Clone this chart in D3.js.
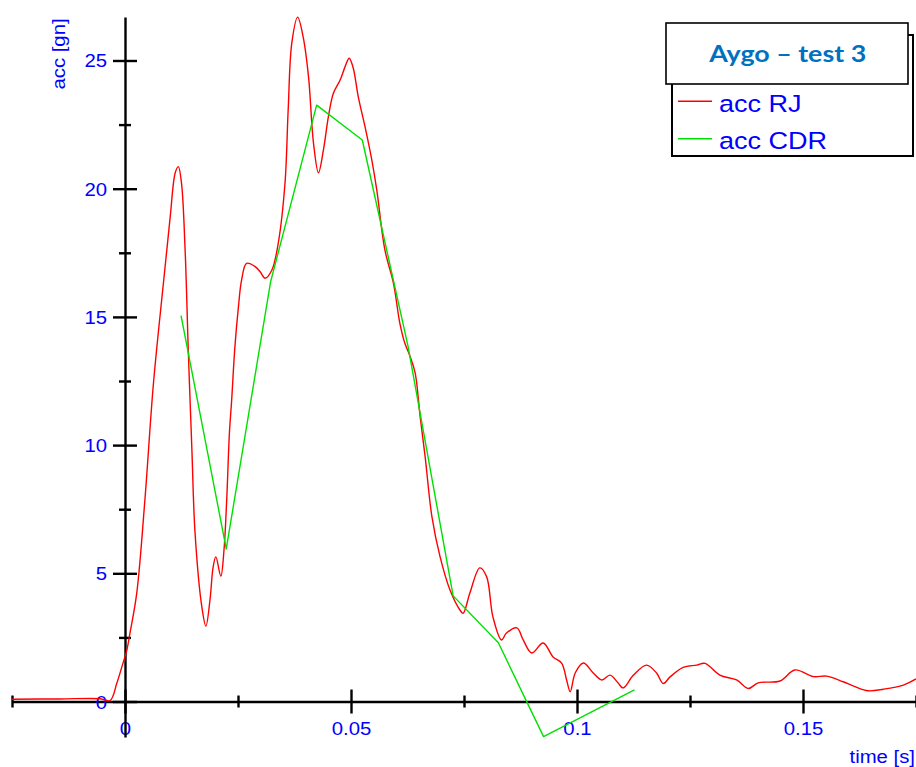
<!DOCTYPE html>
<html>
<head>
<meta charset="utf-8">
<script src="https://cdn.jsdelivr.net/npm/d3@7/dist/d3.min.js"></script>
<style>
  html, body { margin: 0; padding: 0; background: #fff; }
  svg { display: block; }
</style>
</head>
<body>
<svg id="chart" width="916" height="767"></svg>
<script>
// Crash pulse: measured acceleration (acc RJ) vs. CDR reconstruction
const rjTime = [-0.0250, -0.0144, -0.0055, -0.0033, -0.0018, -0.0007, 0.0004, 0.0011, 0.0026, 0.0044,
  0.0063, 0.0085, 0.0100, 0.0111, 0.0118, 0.0125, 0.0133, 0.0140, 0.0148, 0.0155,
  0.0170, 0.0179, 0.0188, 0.0195, 0.0201, 0.0212, 0.0219, 0.0225, 0.0231,
  0.0236, 0.0243, 0.0251, 0.0258, 0.0269, 0.0288, 0.0299, 0.0310, 0.0325, 0.0339,
  0.0354, 0.0361, 0.0369, 0.0382, 0.0394, 0.0406, 0.0417, 0.0428, 0.0439, 0.0450,
  0.0461, 0.0476, 0.0487, 0.0496, 0.0505, 0.0516, 0.0531, 0.0546, 0.0557, 0.0575,
  0.0594, 0.0608, 0.0619, 0.0631, 0.0642, 0.0653, 0.0664, 0.0679, 0.0697, 0.0719,
  0.0741, 0.0748, 0.0763, 0.0785, 0.0800, 0.0814, 0.0833, 0.0844, 0.0867, 0.0881,
  0.0900, 0.0925, 0.0947, 0.0966, 0.0977, 0.0985, 0.0996, 0.1014, 0.1036, 0.1055,
  0.1073, 0.1091, 0.1102, 0.1125, 0.1154, 0.1176, 0.1191, 0.1206, 0.1235, 0.1265,
  0.1283, 0.1316, 0.1353, 0.1379, 0.1401, 0.1449, 0.1482, 0.1523, 0.1552, 0.1589,
  0.1615, 0.1644, 0.1678, 0.1722, 0.1750];
const rjAcc = [0.09, 0.10, 0.11, 0.04, 0.72, 1.35, 2.00, 2.67, 4.23, 7.86,
  12.42, 16.32, 18.90, 20.61, 20.86, 20.22, 17.61, 13.71, 9.81, 6.57,
  3.69, 2.94, 3.96, 5.25, 5.64, 4.89, 5.91, 7.86, 10.47,
  11.76, 13.80, 15.40, 16.44, 17.09, 16.96, 16.76, 16.51, 16.83, 17.87,
  20.22, 23.07, 25.68, 26.69, 25.93, 24.37, 21.78, 20.62, 21.51, 22.81,
  23.72, 24.24, 24.76, 25.09, 24.70, 23.59, 22.42, 21.12, 19.95, 17.61,
  16.31, 14.76, 13.98, 13.45, 12.81, 11.11, 9.55, 7.21, 5.65, 4.35,
  3.57, 3.44, 4.23, 5.21, 4.87, 3.30, 2.40, 2.67, 2.87, 2.40,
  1.89, 2.28, 1.74, 1.50, 0.84, 0.38, 1.11, 1.50, 1.11, 0.84,
  1.03, 0.72, 0.53, 1.03, 1.42, 1.11, 0.70, 0.96, 1.33, 1.42,
  1.49, 1.03, 0.84, 0.51, 0.73, 0.80, 1.23, 0.97, 0.99, 0.77,
  0.58, 0.42, 0.48, 0.64, 0.88];

const cdrTime = [0.0124, 0.0224, 0.0322, 0.0424, 0.0525, 0.0626, 0.0726, 0.0826, 0.0926, 0.1127];
const cdrAcc  = [15.05, 5.95, 16.36, 23.26, 21.90, 13.87, 4.12, 2.29, -1.37, 0.45];

const xMajorTicks = [0, 0.05, 0.1, 0.15];
const xMinorTicks = [-0.025, 0.025, 0.075, 0.125, 0.175];
const yMajorTicks = [0, 5, 10, 15, 20, 25];
const yMinorTicks = [2.5, 7.5, 12.5, 17.5, 22.5];
const xTickLabels = ["0", "0.05", "0.1", "0.15"];
const yTickLabels = ["0", "5", "10", "15", "20", "25"];

const seriesNames = ["acc RJ", "acc CDR"];
const seriesColors = ["#ff0000", "#00e000"];
const titleText = "Aygo \u2013 test 3";
const xTitle = "time [s]";
const yTitle = "acc [gn]";

const svg = d3.select("#chart");
const FONT = "'Liberation Sans', Arial, sans-serif";
const BLUE = "#0000ff";
const STRETCH = 1.13;

const x = d3.scaleLinear().domain([-0.025, 0.175]).range([12, 916]);
const y = d3.scaleLinear().domain([-1.38, 26.7]).range([736.9, 16.9]);

// x axis (drawn first so the y axis line passes over the "0" label)
const xAxisG = svg.append("g").attr("transform", `translate(0,${y(0)})`);
xAxisG.call(d3.axisBottom(x).tickValues(xMajorTicks).tickSize(12).tickSizeOuter(0)
  .tickFormat((d, i) => xTickLabels[i]));
xAxisG.select(".domain").attr("stroke", "#000").attr("stroke-width", 2.4);
xAxisG.selectAll(".tick line").attr("y1", -12).attr("y2", 12).attr("stroke", "#000").attr("stroke-width", 2.4);
xAxisG.selectAll(".tick text")
  .attr("y", null).attr("dy", null)
  .attr("transform", `translate(0,33.5) scale(${STRETCH},1)`)
  .attr("fill", BLUE).attr("font-family", FONT).attr("font-size", 18);

const xMinorG = svg.append("g").attr("transform", `translate(0,${y(0)})`);
xMinorG.call(d3.axisBottom(x).tickValues(xMinorTicks).tickSize(6).tickFormat(""));
xMinorG.select(".domain").remove();
xMinorG.selectAll(".tick line").attr("y1", -6).attr("y2", 6).attr("stroke", "#000").attr("stroke-width", 2.4);

// y axis
const yAxisG = svg.append("g").attr("transform", `translate(${x(0)},0)`);
yAxisG.call(d3.axisLeft(y).tickValues(yMajorTicks).tickSize(12).tickSizeOuter(0)
  .tickFormat((d, i) => yTickLabels[i]));
yAxisG.select(".domain").attr("stroke", "#000").attr("stroke-width", 2.4);
yAxisG.selectAll(".tick line").attr("x1", -12).attr("x2", 12).attr("stroke", "#000").attr("stroke-width", 2.4);
yAxisG.selectAll(".tick text")
  .attr("x", null).attr("dy", "0.36em")
  .attr("transform", `translate(-18,0) scale(${STRETCH},1)`)
  .attr("text-anchor", "end")
  .attr("fill", BLUE).attr("font-family", FONT).attr("font-size", 18);

const yMinorG = svg.append("g").attr("transform", `translate(${x(0)},0)`);
yMinorG.call(d3.axisLeft(y).tickValues(yMinorTicks).tickSize(6).tickFormat(""));
yMinorG.select(".domain").remove();
yMinorG.selectAll(".tick line").attr("x1", -6).attr("x2", 6).attr("stroke", "#000").attr("stroke-width", 2.4);

// axis titles
svg.append("text")
  .attr("transform", `translate(65,54) rotate(-90) scale(${STRETCH},1)`)
  .attr("text-anchor", "middle")
  .attr("font-family", FONT).attr("font-size", 18).attr("fill", BLUE)
  .text(yTitle);
svg.append("text")
  .attr("transform", `translate(915,763) scale(${STRETCH},1)`)
  .attr("text-anchor", "end")
  .attr("font-family", FONT).attr("font-size", 18).attr("fill", BLUE)
  .text(xTitle);

// series
const rjData = rjTime.map((t, i) => [t, rjAcc[i]]);
const cdrData = cdrTime.map((t, i) => [t, cdrAcc[i]]);

const smooth = d3.line().x(d => x(d[0])).y(d => y(d[1])).curve(d3.curveCatmullRom.alpha(0.5));
const straight = d3.line().x(d => x(d[0])).y(d => y(d[1]));

svg.append("path").datum(rjData)
  .attr("d", smooth).attr("fill", "none")
  .attr("stroke", seriesColors[0]).attr("stroke-width", 1.4).attr("stroke-linejoin", "round");
svg.append("path").datum(cdrData)
  .attr("d", straight).attr("fill", "none")
  .attr("stroke", seriesColors[1]).attr("stroke-width", 1.4).attr("stroke-linejoin", "round");

// legend box
svg.append("rect")
  .attr("x", 672).attr("y", 35).attr("width", 241).attr("height", 121)
  .attr("fill", "#fff").attr("stroke", "#000").attr("stroke-width", 2);

const legendRows = [111.7, 149.3];
seriesNames.forEach((name, i) => {
  const base = legendRows[i];
  svg.append("line")
    .attr("x1", 678).attr("x2", 712)
    .attr("y1", base - 10.5).attr("y2", base - 10.5)
    .attr("stroke", seriesColors[i]).attr("stroke-width", 1.4);
  svg.append("text")
    .attr("transform", `translate(719,${base}) scale(1.15,1)`)
    .attr("font-family", FONT).attr("font-size", 23.5).attr("fill", BLUE)
    .text(name);
});

// title box
svg.append("rect")
  .attr("x", 666).attr("y", 23).attr("width", 242).attr("height", 61)
  .attr("fill", "#fff").attr("stroke", "#000").attr("stroke-width", 1.6);
svg.append("text")
  .attr("x", 787.7).attr("y", 61.7)
  .attr("text-anchor", "middle")
  .attr("font-family", "Lato, 'Open Sans', sans-serif").attr("font-weight", 700)
  .attr("font-size", 23).attr("fill", "#0070c0")
  .attr("textLength", 157).attr("lengthAdjust", "spacingAndGlyphs")
  .text(titleText);
</script>
</body>
</html>
